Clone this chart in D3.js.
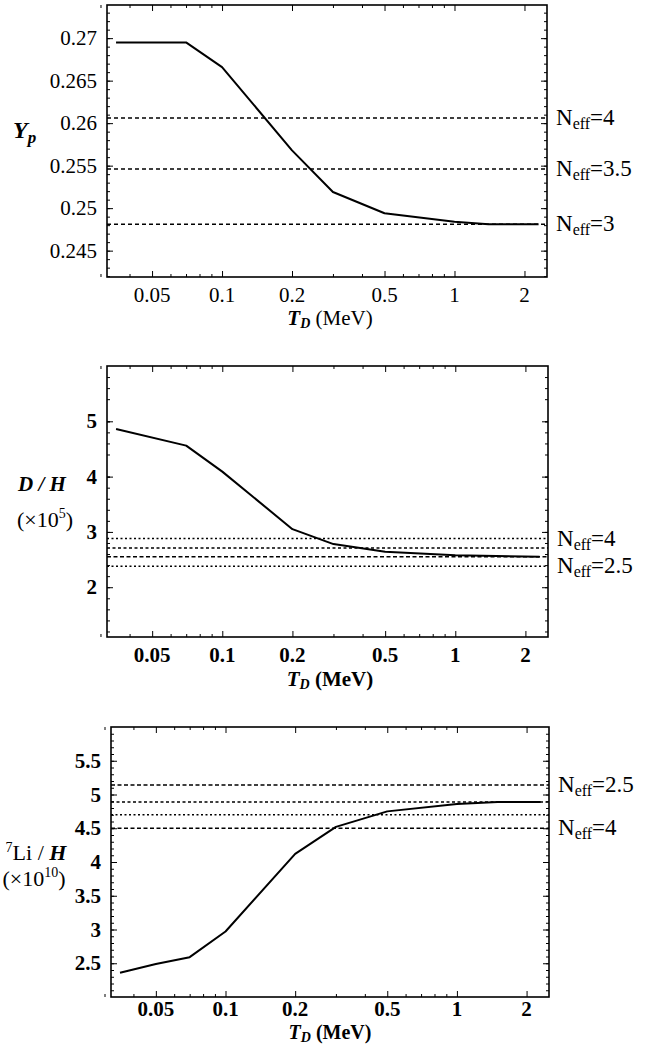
<!DOCTYPE html>
<html>
<head>
<meta charset="utf-8">
<script src="https://cdn.jsdelivr.net/npm/d3@7"></script>
<style>
  body { margin: 0; background: #fff; }
</style>
</head>
<body>
<div id="chart"></div>
<script>
// decoupling temperature T_D (MeV) at which each curve was sampled
var tdYp = [0.035, 0.07, 0.1, 0.2, 0.3, 0.5, 1, 1.4, 2.3];
var yp   = [0.2695, 0.2695, 0.2666, 0.2568, 0.2519, 0.2494, 0.2484, 0.2481, 0.2481];

var tdDH = [0.035, 0.07, 0.1, 0.2, 0.3, 0.5, 1, 2.3];
var dh   = [4.86, 4.56, 4.09, 3.05, 2.78, 2.64, 2.58, 2.55];

var tdLi = [0.035, 0.05, 0.07, 0.1, 0.2, 0.3, 0.5, 1, 1.5, 2.3];
var li   = [2.36, 2.49, 2.59, 2.97, 4.12, 4.52, 4.75, 4.86, 4.89, 4.89];

// reference levels for the standard case at various N_eff
var neffYp = ["4", "3.5", "3"];
var refYp  = [0.2606, 0.2546, 0.2481];
var neffDH = ["4", "3.5", "3", "2.5"];
var refDH  = [2.88, 2.71, 2.55, 2.38];
var neffLi = ["2.5", "3", "3.5", "4"];
var refLi  = [5.14, 4.89, 4.70, 4.50];

// which reference lines get a label
var labYp = [true, true, true];
var labDH = [true, false, false, true];
var labLi = [true, false, false, true];

var xTicks = [0.05, 0.1, 0.2, 0.5, 1, 2];
var xMinor = [0.03, 0.04, 0.06, 0.07, 0.08, 0.09, 0.3, 0.4, 0.6, 0.7, 0.8, 0.9];
var tdDomain = [0.032, 2.5];

var ticksYp = [0.245, 0.25, 0.255, 0.26, 0.265, 0.27];
var ticksDH = [2, 3, 4, 5];
var ticksLi = [2.5, 3, 3.5, 4, 4.5, 5, 5.5];

var FONT = "'Liberation Serif', 'Times New Roman', serif";
var W = 652, H = 1048;
var svg = d3.select("#chart").append("svg")
    .attr("width", W)
    .attr("height", H)
    .style("font-family", FONT);

function panel(p) {
  var x = d3.scaleLog().domain(tdDomain).range([p.left, p.right]);
  var y = d3.scaleLinear().domain(p.ydom).range([p.bottom, p.top]);
  var g = svg.append("g");

  // reference lines (dashed) and their N_eff labels
  p.ref.forEach(function(v, i) {
    g.append("line")
        .attr("x1", p.left).attr("x2", p.right)
        .attr("y1", y(v)).attr("y2", y(v))
        .attr("stroke", "#000")
        .attr("stroke-width", 1.6)
        .attr("stroke-dasharray", p.dash[i]);
    if (p.lab[i]) {
      var t = g.append("text")
          .attr("x", p.right + 9)
          .attr("y", y(v) + 7)
          .style("font-family", FONT)
          .style("font-size", "23px");
      t.append("tspan").text("N");
      t.append("tspan").attr("dy", 4).style("font-size", "16px").text("eff");
      t.append("tspan").attr("dy", -4).text("=" + p.neff[i]);
    }
  });

  // the curve
  var line = d3.line()
      .x(function(d) { return x(d[0]); })
      .y(function(d) { return y(d[1]); });
  g.append("path")
      .datum(d3.zip(p.td, p.vals))
      .attr("fill", "none")
      .attr("stroke", "#000")
      .attr("stroke-width", 2)
      .attr("stroke-linejoin", "round")
      .attr("d", line);

  // frame with inward ticks on all four sides
  g.append("g").attr("transform", "translate(0," + p.bottom + ")")
      .call(d3.axisTop(x).tickValues(xTicks).tickSize(6).tickFormat(""));
  g.append("g").attr("transform", "translate(0," + p.top + ")")
      .call(d3.axisBottom(x).tickValues(xTicks).tickSize(6).tickFormat(""));
  g.append("g").attr("transform", "translate(0," + p.bottom + ")")
      .call(d3.axisTop(x).tickValues(xMinor).tickSize(3).tickFormat(""));
  g.append("g").attr("transform", "translate(0," + p.top + ")")
      .call(d3.axisBottom(x).tickValues(xMinor).tickSize(3).tickFormat(""));

  var minorY = d3.range(p.ydom[0], p.ydom[1], p.minorStep).map(function(v) {
    return Math.round(v / p.minorStep) * p.minorStep;
  }).filter(function(v) { return v > p.ydom[0] && v < p.ydom[1]; });

  g.append("g").attr("transform", "translate(" + p.left + ",0)")
      .call(d3.axisRight(y).tickValues(p.yticks).tickSize(6).tickFormat(""));
  g.append("g").attr("transform", "translate(" + p.right + ",0)")
      .call(d3.axisLeft(y).tickValues(p.yticks).tickSize(6).tickFormat(""));
  g.append("g").attr("transform", "translate(" + p.left + ",0)")
      .call(d3.axisRight(y).tickValues(minorY).tickSize(3).tickFormat(""));
  g.append("g").attr("transform", "translate(" + p.right + ",0)")
      .call(d3.axisLeft(y).tickValues(minorY).tickSize(3).tickFormat(""));
  g.selectAll(".domain").remove();
  g.selectAll(".tick line").attr("stroke", "#000").attr("stroke-width", 1);

  g.append("rect")
      .attr("x", p.left).attr("y", p.top)
      .attr("width", p.right - p.left).attr("height", p.bottom - p.top)
      .attr("fill", "none").attr("stroke", "#000").attr("stroke-width", 1.6);

  // tick labels
  g.selectAll(".xl").data(xTicks).enter().append("text")
      .attr("x", function(d) { return x(d); })
      .attr("y", p.bottom + p.xlabOff)
      .attr("text-anchor", "middle")
      .style("font-family", FONT)
      .style("font-size", "21px")
      .style("font-weight", p.weight)
      .text(function(d) { return d; });
  g.selectAll(".yl").data(p.yticks).enter().append("text")
      .attr("x", p.left - 10)
      .attr("y", function(d) { return y(d) + 7; })
      .attr("text-anchor", "end")
      .style("font-family", FONT)
      .style("font-size", "21px")
      .style("font-weight", p.weight)
      .text(function(d) { return p.fmt(d); });

  // x axis title: T_D (MeV)
  var xt = g.append("text")
      .attr("x", 330)
      .attr("y", p.bottom + p.titleOff)
      .attr("text-anchor", "middle")
      .style("font-family", FONT)
      .style("font-size", p.titleSize);
  xt.append("tspan").style("font-style", "italic").style("font-weight", "bold").text("T");
  xt.append("tspan").attr("dy", 3).style("font-style", "italic").style("font-weight", "bold")
      .style("font-size", "14px").text("D");
  xt.append("tspan").attr("dy", -3).style("font-weight", p.weight).text(" (MeV)");

  p.ytitle(g);
}

panel({
  left: 107, right: 547, top: 5, bottom: 277,
  ydom: [0.2419, 0.2739], yticks: ticksYp, minorStep: 0.001,
  fmt: function(d) { return d3.format(".3~f")(d); },
  td: tdYp, vals: yp, ref: refYp, neff: neffYp, lab: labYp,
  dash: ["4,3", "4,3", "4,3"],
  weight: "normal", xlabOff: 25, titleOff: 48, titleSize: "21px",
  ytitle: function(g) {
    var t = g.append("text").attr("x", 13).attr("y", 138)
        .style("font-family", FONT)
        .style("font-size", "24px").style("font-style", "italic").style("font-weight", "bold");
    t.append("tspan").text("Y");
    t.append("tspan").attr("dy", 5).style("font-size", "17px").text("p");
  }
});

panel({
  left: 107, right: 548, top: 366, bottom: 637,
  ydom: [1.1, 6.0], yticks: ticksDH, minorStep: 0.2,
  fmt: function(d) { return d; },
  td: tdDH, vals: dh, ref: refDH, neff: neffDH, lab: labDH,
  dash: ["2,2.5", "3,2.5", "4,2.5", "2,2.5"],
  weight: "bold", xlabOff: 25, titleOff: 49, titleSize: "21px",
  ytitle: function(g) {
    g.append("text").attr("x", 42).attr("y", 491)
        .attr("text-anchor", "middle")
        .style("font-family", FONT)
        .style("font-size", "21px").style("font-style", "italic").style("font-weight", "bold")
        .text("D / H");
    var t = g.append("text").attr("x", 45).attr("y", 527)
        .attr("text-anchor", "middle")
        .style("font-family", FONT).style("font-size", "22px");
    t.append("tspan").text("(\u00d710");
    t.append("tspan").attr("dy", -9).style("font-size", "14px").text("5");
    t.append("tspan").attr("dy", 9).text(")");
  }
});

panel({
  left: 111, right: 549, top: 727, bottom: 997,
  ydom: [2.0, 6.0], yticks: ticksLi, minorStep: 0.1,
  fmt: function(d) { return d; },
  td: tdLi, vals: li, ref: refLi, neff: neffLi, lab: labLi,
  dash: ["4,2.5", "3,2.5", "2,2.5", "4,2.5"],
  weight: "bold", xlabOff: 19, titleOff: 42, titleSize: "20px",
  ytitle: function(g) {
    var t = g.append("text").attr("x", 36).attr("y", 860)
        .attr("text-anchor", "middle")
        .style("font-family", FONT).style("font-size", "22px");
    t.append("tspan").attr("dy", -8).style("font-size", "14px").text("7");
    t.append("tspan").attr("dy", 8).text("Li");
    t.append("tspan").text(" / ");
    t.append("tspan").style("font-style", "italic").style("font-weight", "bold").text("H");
    var u = g.append("text").attr("x", 34).attr("y", 886)
        .attr("text-anchor", "middle")
        .style("font-family", FONT).style("font-size", "22px");
    u.append("tspan").text("(\u00d710");
    u.append("tspan").attr("dy", -9).style("font-size", "14px").text("10");
    u.append("tspan").attr("dy", 9).text(")");
  }
});
</script>
</body>
</html>
